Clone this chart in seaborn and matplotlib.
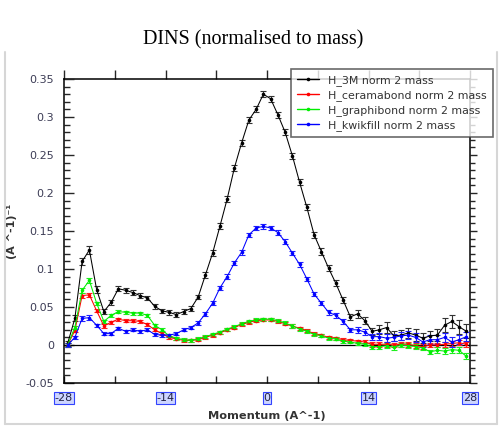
import matplotlib
matplotlib.use("Agg")
import matplotlib.pyplot as plt
import seaborn as sns
import pandas as pd
from matplotlib.lines import Line2D
from matplotlib.ticker import FixedLocator, FixedFormatter, MultipleLocator

# Momentum bin centres (A^-1)
momentum = [-27.5, -26.5, -25.5, -24.5, -23.5, -22.5, -21.5, -20.5, -19.5, -18.5,
            -17.5, -16.5, -15.5, -14.5, -13.5, -12.5, -11.5, -10.5, -9.5, -8.5,
            -7.5, -6.5, -5.5, -4.5, -3.5, -2.5, -1.5, -0.5, 0.5, 1.5,
            2.5, 3.5, 4.5, 5.5, 6.5, 7.5, 8.5, 9.5, 10.5, 11.5,
            12.5, 13.5, 14.5, 15.5, 16.5, 17.5, 18.5, 19.5, 20.5, 21.5,
            22.5, 23.5, 24.5, 25.5, 26.5, 27.5]

h_3m = [0.002, 0.035, 0.110, 0.125, 0.073, 0.044, 0.056, 0.074, 0.072, 0.069,
        0.065, 0.062, 0.051, 0.045, 0.043, 0.040, 0.044, 0.048, 0.063, 0.092,
        0.121, 0.156, 0.192, 0.233, 0.266, 0.296, 0.310, 0.330, 0.324, 0.303,
        0.280, 0.249, 0.214, 0.181, 0.145, 0.123, 0.101, 0.081, 0.059, 0.037,
        0.041, 0.032, 0.018, 0.020, 0.023, 0.012, 0.013, 0.016, 0.013, 0.009,
        0.012, 0.013, 0.026, 0.031, 0.024, 0.018]
h_3m_err = [0.003, 0.004, 0.005, 0.005, 0.004, 0.003, 0.003, 0.003, 0.003, 0.003,
            0.003, 0.003, 0.003, 0.003, 0.003, 0.003, 0.003, 0.003, 0.003, 0.004,
            0.004, 0.004, 0.004, 0.004, 0.004, 0.004, 0.004, 0.004, 0.004, 0.004,
            0.004, 0.004, 0.004, 0.004, 0.004, 0.004, 0.004, 0.004, 0.004, 0.004,
            0.005, 0.005, 0.005, 0.006, 0.007, 0.007, 0.007, 0.007, 0.008, 0.007,
            0.007, 0.008, 0.009, 0.009, 0.009, 0.009]

h_ceramabond = [0.000, 0.019, 0.065, 0.066, 0.045, 0.025, 0.030, 0.034, 0.032, 0.032,
                0.031, 0.027, 0.020, 0.015, 0.010, 0.008, 0.006, 0.006, 0.007, 0.010,
                0.013, 0.016, 0.020, 0.023, 0.027, 0.030, 0.032, 0.033, 0.033, 0.031,
                0.028, 0.025, 0.022, 0.019, 0.015, 0.013, 0.010, 0.009, 0.007, 0.006,
                0.005, 0.004, 0.001, 0.001, 0.001, 0.000, 0.001, 0.001, -0.001, -0.002,
                0.000, 0.000, 0.001, 0.002, 0.003, 0.001]
h_ceramabond_err = [0.002, 0.002, 0.003, 0.003, 0.002, 0.002, 0.002, 0.002, 0.002, 0.002,
                    0.002, 0.002, 0.002, 0.002, 0.002, 0.002, 0.002, 0.002, 0.002, 0.002,
                    0.002, 0.002, 0.002, 0.002, 0.002, 0.002, 0.002, 0.002, 0.002, 0.002,
                    0.002, 0.002, 0.002, 0.002, 0.002, 0.002, 0.002, 0.002, 0.002, 0.002,
                    0.002, 0.002, 0.003, 0.003, 0.003, 0.003, 0.003, 0.003, 0.003, 0.003,
                    0.003, 0.003, 0.003, 0.003, 0.003, 0.003]

h_graphibond = [0.000, 0.023, 0.072, 0.085, 0.055, 0.031, 0.039, 0.044, 0.043, 0.042,
                0.042, 0.039, 0.026, 0.020, 0.012, 0.009, 0.007, 0.006, 0.008, 0.011,
                0.014, 0.017, 0.021, 0.024, 0.028, 0.031, 0.033, 0.034, 0.034, 0.032,
                0.029, 0.025, 0.021, 0.018, 0.014, 0.012, 0.009, 0.008, 0.005, 0.004,
                0.002, 0.001, -0.002, -0.002, -0.001, -0.003, 0.000, -0.001, -0.002, -0.004,
                -0.009, -0.007, -0.008, -0.006, -0.007, -0.015]
h_graphibond_err = [0.002, 0.002, 0.003, 0.003, 0.002, 0.002, 0.002, 0.002, 0.002, 0.002,
                    0.002, 0.002, 0.002, 0.002, 0.002, 0.002, 0.002, 0.002, 0.002, 0.002,
                    0.002, 0.002, 0.002, 0.002, 0.002, 0.002, 0.002, 0.002, 0.002, 0.002,
                    0.002, 0.002, 0.002, 0.002, 0.002, 0.002, 0.002, 0.002, 0.002, 0.002,
                    0.002, 0.002, 0.003, 0.003, 0.003, 0.003, 0.003, 0.003, 0.003, 0.003,
                    0.003, 0.004, 0.004, 0.004, 0.004, 0.004]

h_kwikfill = [0.000, 0.010, 0.035, 0.036, 0.026, 0.015, 0.015, 0.022, 0.018, 0.020,
              0.018, 0.020, 0.014, 0.013, 0.013, 0.015, 0.020, 0.023, 0.029, 0.041,
              0.055, 0.075, 0.090, 0.108, 0.122, 0.145, 0.154, 0.156, 0.154, 0.148,
              0.136, 0.121, 0.106, 0.087, 0.067, 0.055, 0.043, 0.039, 0.031, 0.020,
              0.020, 0.017, 0.011, 0.011, 0.009, 0.010, 0.012, 0.013, 0.010, 0.004,
              0.007, 0.007, 0.010, 0.004, 0.007, 0.011]
h_kwikfill_err = [0.002, 0.002, 0.003, 0.003, 0.002, 0.002, 0.002, 0.002, 0.002, 0.002,
                  0.002, 0.002, 0.002, 0.002, 0.002, 0.002, 0.002, 0.002, 0.003, 0.003,
                  0.003, 0.003, 0.003, 0.003, 0.003, 0.003, 0.003, 0.003, 0.003, 0.003,
                  0.003, 0.003, 0.003, 0.003, 0.003, 0.003, 0.003, 0.003, 0.003, 0.003,
                  0.004, 0.004, 0.004, 0.005, 0.005, 0.005, 0.005, 0.005, 0.006, 0.006,
                  0.006, 0.006, 0.006, 0.006, 0.006, 0.006]

series_names = ["H_3M norm 2 mass", "H_ceramabond norm 2 mass",
                "H_graphibond norm 2 mass", "H_kwikfill norm 2 mass"]
series_values = [h_3m, h_ceramabond, h_graphibond, h_kwikfill]
series_errors = [h_3m_err, h_ceramabond_err, h_graphibond_err, h_kwikfill_err]
series_colors = ["#000000", "#ff0000", "#00ee00", "#0000ff"]
errbar_colors = ["#333333", "#ff2020", "#20ee20", "#2020ff"]

x_major_ticks = [-28, -14, 0, 14, 28]
x_major_labels = ["-28", "-14", "0", "14", "28"]
x_minor_ticks = [-21, -7, 7, 21]
y_ticks = [-0.05, 0, 0.05, 0.1, 0.15, 0.2, 0.25, 0.3, 0.35]
y_labels = ["-0.05", "0", "0.05", "0.1", "0.15", "0.2", "0.25", "0.3", "0.35"]

sns.set_style("white")
plt.rcParams["font.family"] = ["DejaVu Sans"]

W, H = 500, 433
fig = plt.figure(figsize=(W / 100, H / 100), dpi=100)
ax = fig.add_axes([64 / W, 1 - 383 / H, (470 - 64) / W, (383 - 79) / H])

frames = [pd.DataFrame({"Momentum": momentum, "value": vals, "series": name})
          for name, vals in zip(series_names, series_values)]
df = pd.concat(frames, ignore_index=True)

ax.axhline(0, color="black", lw=0.9, zorder=1)

sns.lineplot(data=df, x="Momentum", y="value", hue="series",
             hue_order=series_names,
             palette=dict(zip(series_names, series_colors)),
             marker="o", markersize=2.6, markeredgewidth=0,
             linewidth=0.75, errorbar=None, legend=False, ax=ax, zorder=3)

for vals, errs, ec in zip(series_values, series_errors, errbar_colors):
    ax.errorbar(momentum, vals, yerr=errs, fmt="none", ecolor=ec,
                elinewidth=0.8, capsize=2.3, capthick=0.8, zorder=2)

ax.set_xlim(-28, 28)
ax.set_ylim(-0.05, 0.35)

tick_color = "#3c3c55"
ax.xaxis.set_major_locator(FixedLocator(x_major_ticks))
ax.xaxis.set_major_formatter(FixedFormatter(x_major_labels))
ax.xaxis.set_minor_locator(FixedLocator(x_minor_ticks))
ax.yaxis.set_major_locator(FixedLocator(y_ticks))
ax.yaxis.set_major_formatter(FixedFormatter(y_labels))
ax.yaxis.set_minor_locator(MultipleLocator(0.01))

ax.tick_params(axis="x", which="both", direction="in", length=5, width=1,
               bottom=True, top=False, labelsize=8, pad=7, labelcolor="#222244")
ax.tick_params(axis="y", which="major", direction="in", length=7, width=1,
               left=True, right=False, labelsize=8, pad=7, labelcolor=tick_color)
ax.tick_params(axis="y", which="minor", direction="in", length=4.5, width=1,
               left=True, right=False)

for lbl in ax.get_xticklabels():
    lbl.set_bbox(dict(boxstyle="square,pad=0.08", fc="#cdd5ff", ec="#3344ff", lw=0.8))

for side in ("left", "bottom"):
    ax.spines[side].set_visible(True)
    ax.spines[side].set_color("black")
    ax.spines[side].set_linewidth(1.1)
for side in ("top", "right"):
    ax.spines[side].set_visible(False)

# top and right axes carry outward-pointing ticks without labels
top = ax.secondary_xaxis("top")
top.xaxis.set_major_locator(FixedLocator(x_major_ticks + x_minor_ticks))
top.tick_params(axis="x", direction="out", length=6.5, width=1, labeltop=False)
right = ax.secondary_yaxis("right")
right.yaxis.set_major_locator(FixedLocator(y_ticks))
right.yaxis.set_minor_locator(MultipleLocator(0.01))
right.tick_params(axis="y", which="major", direction="out", length=5, width=1, labelright=False)
right.tick_params(axis="y", which="minor", direction="out", length=3.5, width=1)
for sec in (top, right):
    for sp in sec.spines.values():
        sp.set_linewidth(1.1)
        sp.set_color("black")

ax.set_xlabel("Momentum (A^-1)", fontsize=8.2, fontweight="bold", color="#333333")
ax.xaxis.set_label_coords(0.5, (383 - 411) / (383 - 79))
ax.set_ylabel("(A ^-1)⁻¹", fontsize=8, fontweight="bold", color="#333333")
ax.yaxis.set_label_coords((17.5 - 64) / (470 - 64), 0.5)

handles = [Line2D([0], [0], color=c, lw=1, marker="o", ms=2.6, markeredgewidth=0)
           for c in series_colors]
leg = ax.legend(handles, series_names, loc="upper left",
                bbox_to_anchor=(291 / W, 1 - 69 / H), bbox_transform=fig.transFigure,
                frameon=True, fancybox=False, edgecolor="#444444", fontsize=7.9,
                handlelength=2.0, handletextpad=0.85, borderpad=0.55,
                labelspacing=0.38, borderaxespad=0)
leg.get_frame().set_linewidth(1.2)
leg.set_zorder(10)
for t in leg.get_texts():
    t.set_color("#333333")

fig.text(253 / W, 1 - 40 / H, "DINS (normalised to mass)", family="Liberation Serif",
         fontsize=14.5, ha="center", va="center", color="black")

# light panel outline around the plot area
for xs, ys in [([5, 5], [52, 424]), ([497, 497], [52, 424]), ([5, 497], [424, 424])]:
    fig.add_artist(Line2D([x / W for x in xs], [1 - y / H for y in ys],
                          transform=fig.transFigure, color="#d6d6d6", lw=1.5))

fig.savefig("out.png", dpi=100)
